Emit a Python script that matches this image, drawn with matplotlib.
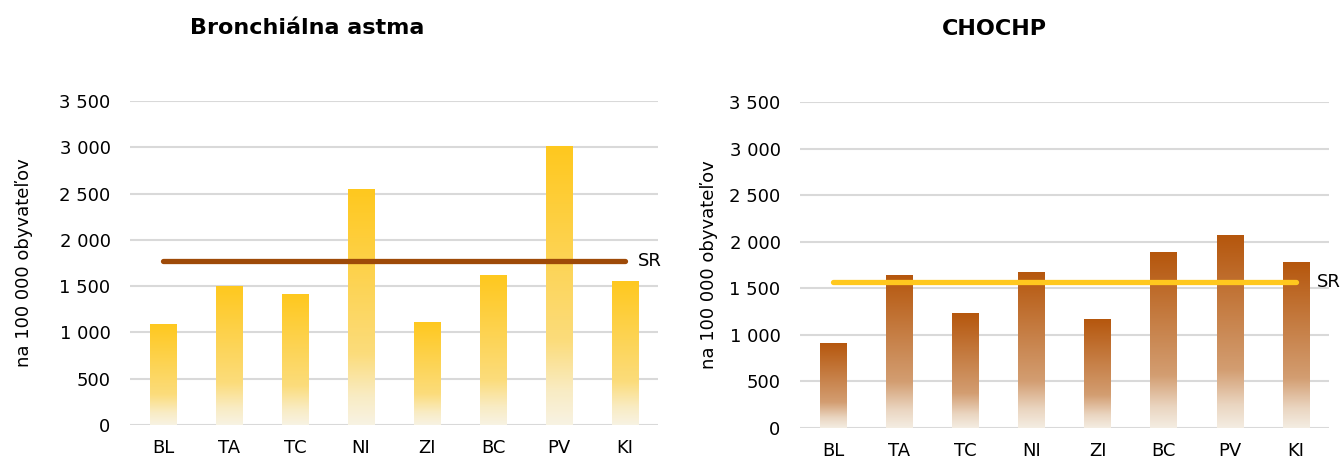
import numpy as np
import matplotlib
matplotlib.use('Agg')
import matplotlib.pyplot as plt
from matplotlib.colors import to_rgb

regions = ['BL', 'TA', 'TC', 'NI', 'ZI', 'BC', 'PV', 'KI']
astma = [1095, 1505, 1410, 2550, 1115, 1615, 3015, 1560]
astma_sr = 1775
chochp = [915, 1645, 1240, 1680, 1175, 1885, 2075, 1785]
chochp_sr = 1570

yticks = [0, 500, 1000, 1500, 2000, 2500, 3000, 3500]
ytick_labels = ['0', '500', '1 000', '1 500', '2 000', '2 500', '3 000', '3 500']

YELLOW = '#FFC81E'
BROWN = '#B5560C'
DARK_BROWN = '#9E4A08'


def gradient_bars(ax, values, color):
    x = np.arange(len(values))
    bars = ax.bar(x, values, width=0.4, color='none', edgecolor='none', zorder=2)
    top = np.array(to_rgb(color))
    # gradient stops (0 = top of bar, 1 = bottom), amount of white mixed in
    t = np.linspace(0, 1, 256)
    fade = np.interp(t, [0, 0.7, 0.88, 1.0], [0, 0.45, 0.8, 0.95])
    rgb = top[None, :] * (1 - fade[:, None]) + np.array([0.97, 0.96, 0.93])[None, :] * fade[:, None]
    img = np.repeat(rgb[:, None, :], 2, axis=1)
    for bar in bars:
        x0, w, h = bar.get_x(), bar.get_width(), bar.get_height()
        im = ax.imshow(img, extent=[x0, x0 + w, 0, h], aspect='auto',
                       origin='upper', zorder=2, interpolation='bilinear')
        im.set_clip_path(bar)
    return bars


def style_axis(ax, title, title_x, labelpad):
    ax.set_xlim(-0.5, len(regions) - 0.5)
    ax.set_ylim(0, 3500)
    ax.set_yticks(yticks)
    ax.set_yticklabels(ytick_labels, fontsize=13)
    ax.set_xticks(np.arange(len(regions)))
    ax.set_xticklabels(regions, fontsize=13)
    ax.tick_params(length=0, pad=10)
    ax.tick_params(axis='y', pad=14)
    for s in ax.spines.values():
        s.set_visible(False)
    ax.grid(axis='y', color='#D9D9D9', linewidth=1.5, zorder=0)
    ax.set_axisbelow(True)
    ax.set_ylabel('na 100 000 obyvateľov', fontsize=13, labelpad=labelpad)
    ax.text(title_x, 1.225, title, transform=ax.transAxes, fontsize=16,
            fontweight='bold', ha='center', va='center')


fig = plt.figure(figsize=(13.44, 4.65), dpi=100)
ax1 = fig.add_axes([0.0967, 0.086, 0.3929, 0.697])
ax2 = fig.add_axes([0.5952, 0.0796, 0.3936, 0.701])

gradient_bars(ax1, astma, YELLOW)
ax1.plot([0, len(regions) - 1], [astma_sr] * 2, color=DARK_BROWN,
         linewidth=3.8, solid_capstyle='round', zorder=3)
ax1.text(len(regions) - 1 + 0.2, astma_sr, 'SR', fontsize=13, va='center', ha='left')
style_axis(ax1, 'Bronchiálna astma', 0.335, 19)

gradient_bars(ax2, chochp, BROWN)
ax2.plot([0, len(regions) - 1], [chochp_sr] * 2, color=YELLOW,
         linewidth=3.8, solid_capstyle='round', zorder=3)
ax2.text(len(regions) - 1 + 0.32, chochp_sr, 'SR', fontsize=13, va='center', ha='left')
style_axis(ax2, 'CHOCHP', 0.367, 8)

fig.savefig('out.png', dpi=100)
